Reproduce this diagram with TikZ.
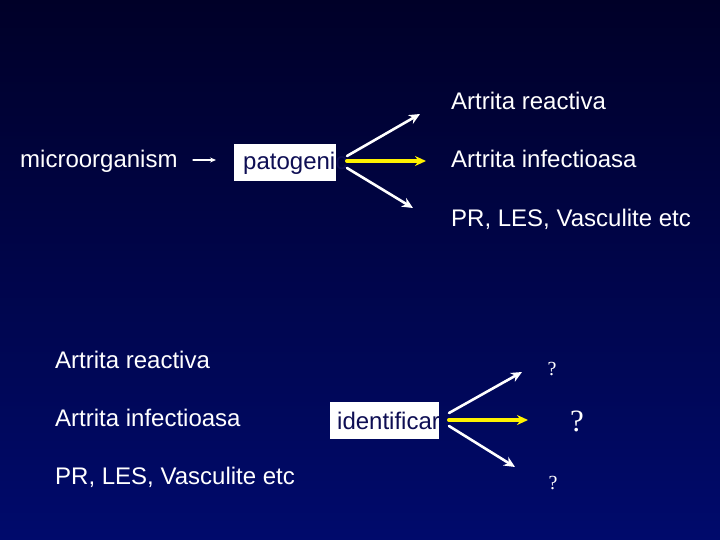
\documentclass[tikz,border=0pt]{standalone}
\usepackage{fontspec}
\setmainfont{Liberation Sans}
\newfontfamily\qfont{Liberation Serif}
\usetikzlibrary{arrows.meta}
\definecolor{slidetop}{RGB}{0,0,40}
\definecolor{slidebottom}{RGB}{0,10,108}
\definecolor{boxink}{RGB}{14,14,84}

\begin{document}
\begin{tikzpicture}[x=1pt, y=-1pt, line cap=round, >={Stealth[length=11pt,width=10pt]},
	lbl/.style={text=white, anchor=base west, inner sep=0pt, font=\fontsize{24}{27}\selectfont},
	boxtxt/.style={lbl, text=boxink},
	wbox/.style={fill=white, inner sep=0pt},
	qm/.style={text=white, anchor=base, inner sep=0pt},
	arr/.style={->, white, line width=2.6pt},
	yarr/.style={->, yellow, line width=4pt}]
	\useasboundingbox (0,0) rectangle (720,540);
	\shade[top color=slidetop, bottom color=slidebottom] (0,0) rectangle (720,540);
	% upper scheme
	\node[lbl] (micro) at (20,168) {microorganism};
	\node[wbox, minimum width=102pt, minimum height=37pt] (pat) at (285,162.5) {};
	\node[boxtxt] (patt) at (243,170) {patogenic};
	\coordinate (m1) at (193,160);
	\coordinate (m2) at (216,160);
	\draw[white, line width=1.3pt, -{Stealth[length=6pt,width=5pt]}] (m1) -- (m2);
	\node[lbl] (ar1) at (451,110) {Artrita reactiva};
	\node[lbl] (ai1) at (451,168) {Artrita infectioasa};
	\node[lbl] (pr1) at (451,226) {PR, LES, Vasculite etc};
	\coordinate (pu) at (347,156);
	\coordinate (pm) at (347,161);
	\coordinate (pd) at (347,168);
	\coordinate (eu) at (420,114);
	\coordinate (em) at (426,161);
	\coordinate (ed) at (413,208);
	\draw[arr] (pu) -- (eu);
	\draw[yarr] (pm) -- (em);
	\draw[arr] (pd) -- (ed);
	% lower scheme
	\node[lbl] (ar2) at (55,368) {Artrita reactiva};
	\node[lbl] (ai2) at (55,426) {Artrita infectioasa};
	\node[lbl] (pr2) at (55,484) {PR, LES, Vasculite etc};
	\node[wbox, minimum width=109pt, minimum height=37pt] (idf) at (384.5,420.5) {};
	\node[boxtxt] (idft) at (337,429) {identificar};
	\coordinate (iu) at (449,413);
	\coordinate (im) at (449,420);
	\coordinate (id) at (449,426);
	\coordinate (fu) at (522,372);
	\coordinate (fm) at (528,420);
	\coordinate (fd) at (515,467);
	\draw[arr] (iu) -- (fu);
	\draw[yarr] (im) -- (fm);
	\draw[arr] (id) -- (fd);
	\node[qm, font=\qfont\fontsize{20}{22}\selectfont] (q1) at (552,375) {?};
	\node[qm, font=\qfont\fontsize{31}{34}\selectfont] (q2) at (577,431) {?};
	\node[qm, font=\qfont\fontsize{20}{22}\selectfont] (q3) at (553,489) {?};
\end{tikzpicture}
\end{document}
